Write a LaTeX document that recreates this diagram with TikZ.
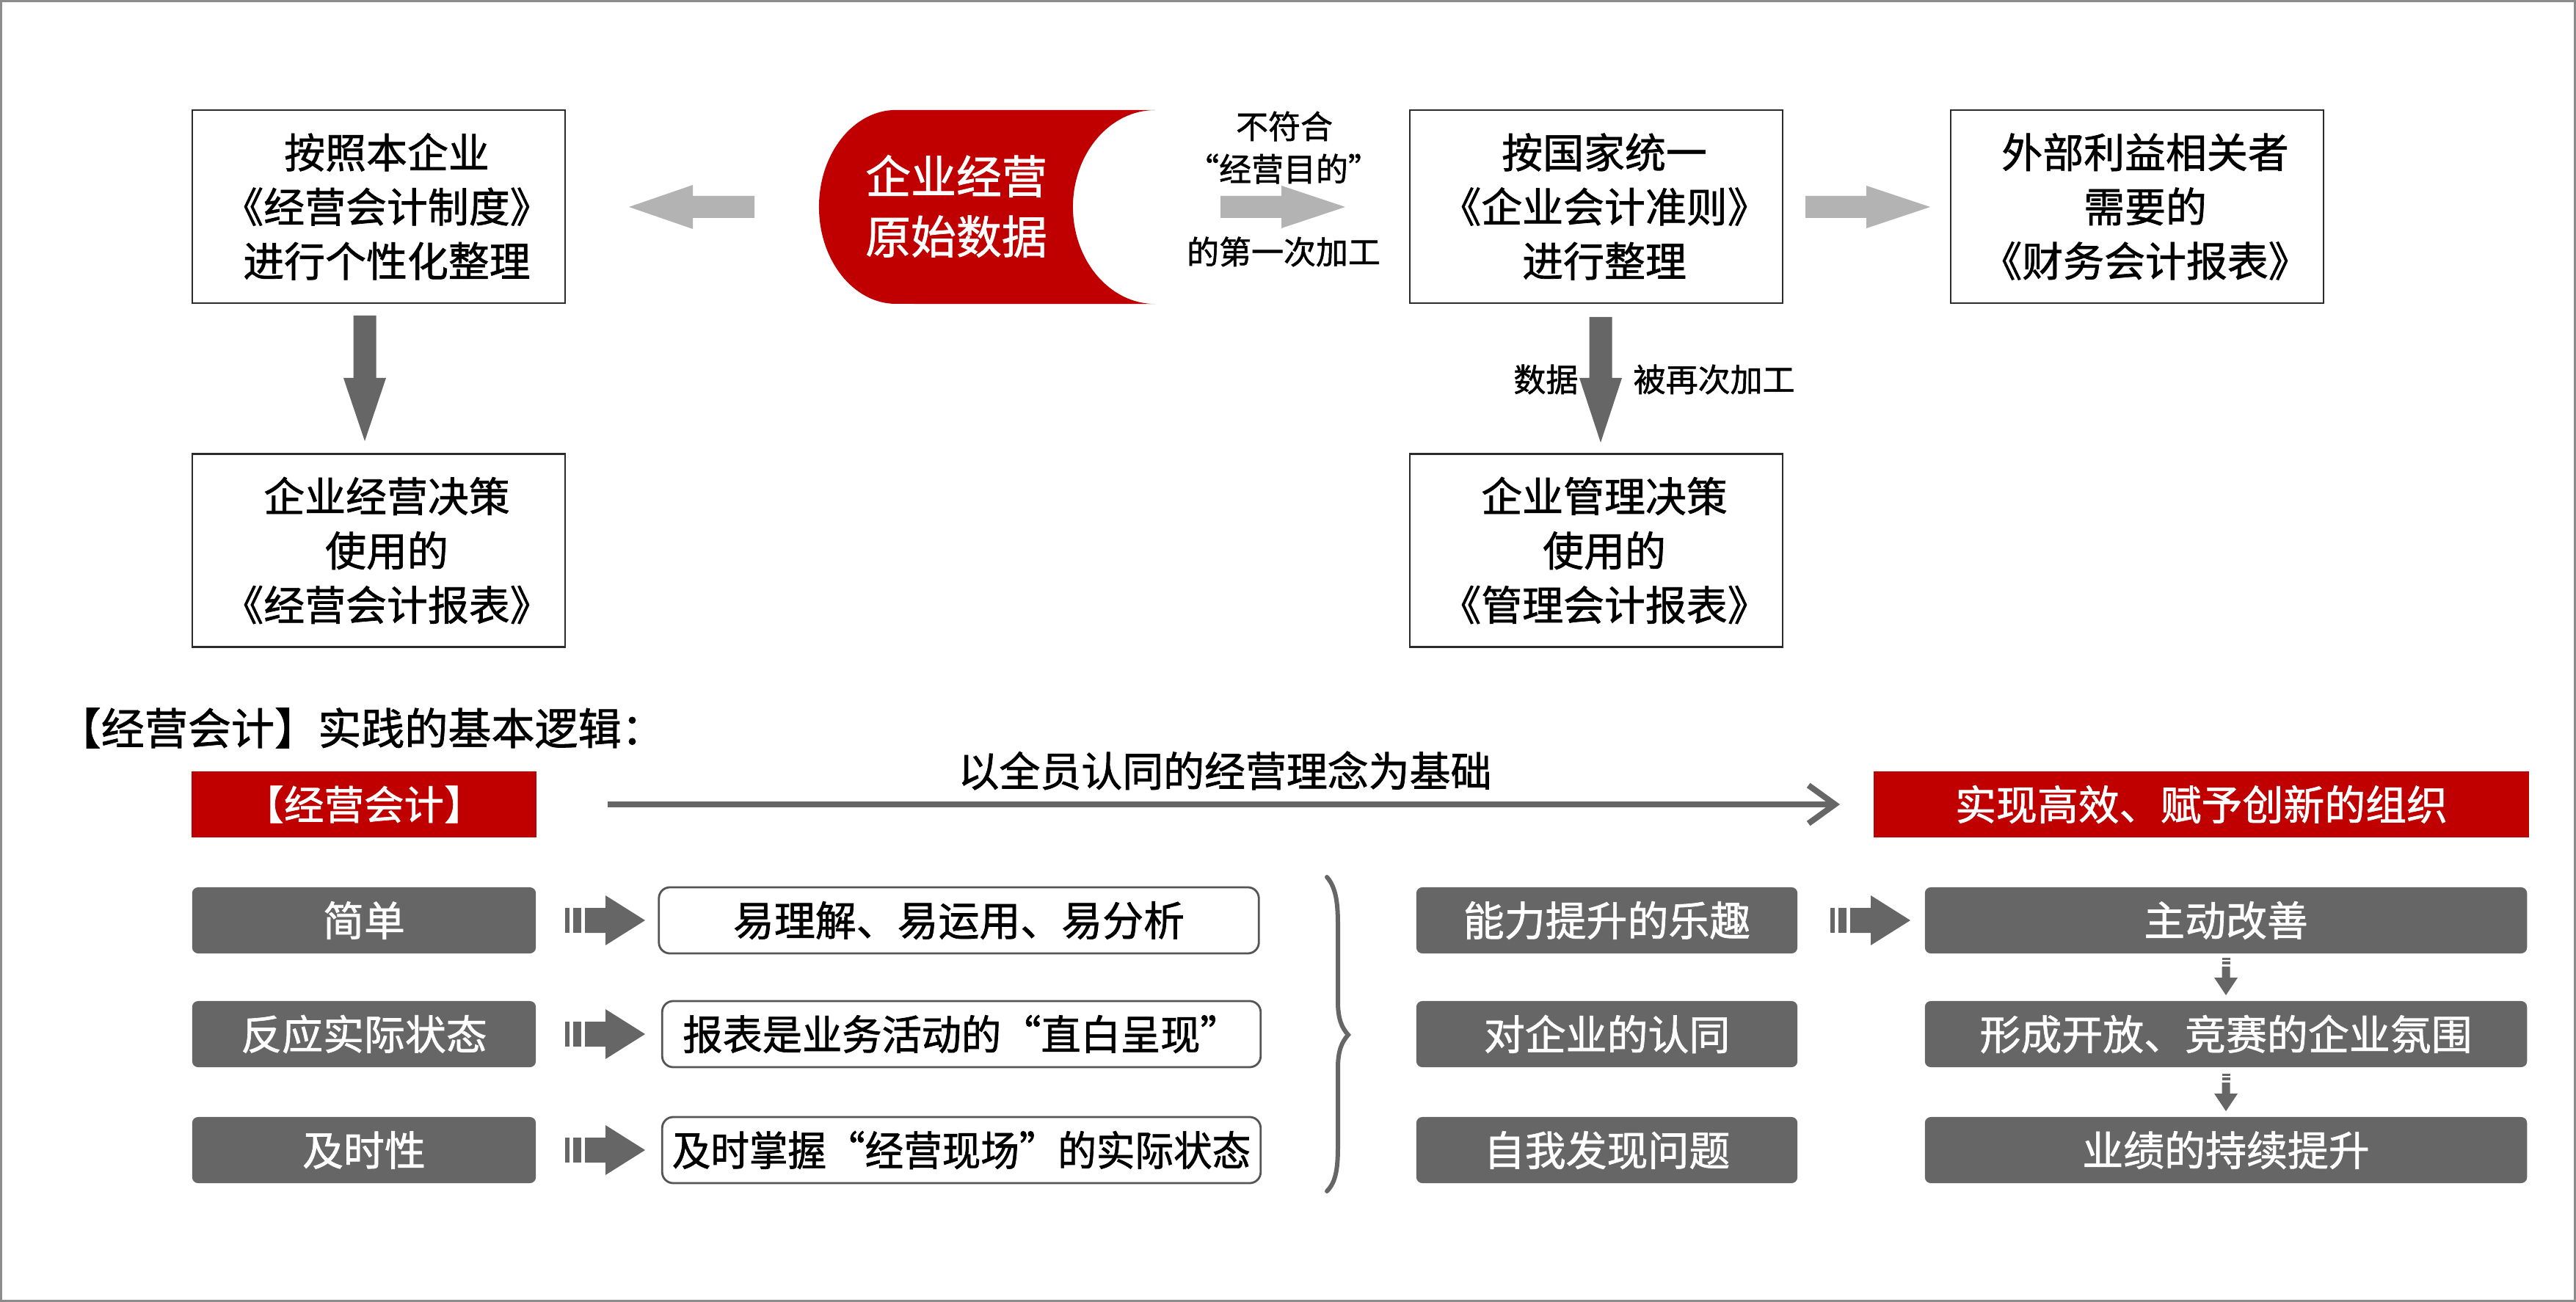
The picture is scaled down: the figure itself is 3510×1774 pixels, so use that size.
\documentclass[tikz,border=0pt]{standalone}
\usepackage{fontspec}
\setmainfont{Noto Sans CJK SC}[FakeBold=1.2]
\usetikzlibrary{arrows.meta}
\definecolor{cred}{HTML}{C00000}
\definecolor{cdark}{HTML}{666666}
\definecolor{clight}{HTML}{B3B3B3}
\definecolor{cline}{HTML}{2B2B2B}
\definecolor{cwline}{HTML}{555555}
\definecolor{cframe}{HTML}{8C8C8C}
\newcommand\fsBox{\fontsize{15.9pt}{21.05pt}\selectfont}
\newcommand\fsSrc{\fontsize{17.6pt}{23.3pt}\selectfont}
\newcommand\fsLab{\fontsize{12.5pt}{15pt}\selectfont}
\newcommand\fsTitle{\fontsize{16.8pt}{20pt}\selectfont}
\newcommand\fsRow{\fontsize{15.9pt}{19pt}\selectfont}
\newcommand\fsRed{\fontsize{15.5pt}{19pt}\selectfont}
\tikzset{
  topbox/.style={draw=cline, line width=0.7pt, fill=white, minimum width=5.08cm, minimum height=2.63cm, inner sep=0pt},
  boxtext/.style={inner sep=0pt, align=center, font=\fsBox},
  gbox/.style={fill=cdark, rounded corners=0.08cm, minimum height=0.9cm, inner sep=0pt, text=white, font=\fsRow},
  wbox/.style={draw=cwline, line width=0.8pt, fill=white, rounded corners=0.15cm, minimum height=0.9cm, minimum width=8.17cm, inner sep=0pt, font=\fsRow},
  rbox/.style={fill=cred, minimum height=0.9cm, inner sep=0pt, text=white, font=\fsRed},
  lab/.style={font=\fsLab, inner sep=0pt},
  lightarrow/.style={fill=clight},
  darkarrow/.style={fill=cdark},
}
\begin{document}
\begin{tikzpicture}[x=0.01cm,y=-0.01cm]
\useasboundingbox (0,0) rectangle (3510,1774);
\draw[cframe, line width=0.03cm] (1.5,1.5) rectangle (3508.5,1772.5);

% ---------- top part ----------
\node[topbox] (A) at (516,281.5) {};
\node[topbox] (B) at (2175,281.5) {};
\node[topbox] (C) at (2912,281.5) {};
\node[topbox] (E) at (516,750) {};
\node[topbox] (D) at (2175,750) {};
\node[boxtext] (At) at ([xshift=0.11cm]A.center) {按照本企业\\《经营会计制度》\\进行个性化整理};
\node[boxtext] (Bt) at ([xshift=0.11cm]B.center) {按国家统一\\《企业会计准则》\\进行整理};
\node[boxtext] (Ct) at ([xshift=0.11cm]C.center) {外部利益相关者\\需要的\\《财务会计报表》};
\node[boxtext] (Et) at ([xshift=0.11cm]E.center) {企业经营决策\\使用的\\《经营会计报表》};
\node[boxtext] (Dt) at ([xshift=0.11cm]D.center) {企业管理决策\\使用的\\《管理会计报表》};

% source shape
\fill[cred] (1221,150) -- (1574,150)
  arc[start angle=90, end angle=270, x radius=1.12cm, y radius=1.32cm]
  -- (1221,414)
  arc[start angle=270, end angle=90, x radius=1.05cm, y radius=1.32cm] -- cycle;
\node[font=\fsSrc, text=white, align=center, inner sep=0pt] (src) at (1303,281) {企业经营\\原始数据};

% block arrows (top)
\fill[lightarrow] (1028,267) -- (944,267) -- (944,252) -- (857,282) -- (944,312) -- (944,297) -- (1028,297) -- cycle;
\fill[lightarrow] (1663,267) -- (1746,267) -- (1746,253) -- (1833,282) -- (1746,311) -- (1746,297) -- (1663,297) -- cycle;
\fill[lightarrow] (2460,267) -- (2543,267) -- (2543,253) -- (2630,282) -- (2543,311) -- (2543,297) -- (2460,297) -- cycle;
\fill[darkarrow] (481.5,430) -- (512.5,430) -- (512.5,515) -- (526,515) -- (497,601) -- (468,515) -- (481.5,515) -- cycle;
\fill[darkarrow] (2165.5,432) -- (2196.5,432) -- (2196.5,515) -- (2210,515) -- (2181,603) -- (2152,515) -- (2165.5,515) -- cycle;

\node[lab] (l1) at (1750,172) {不符合};
\node[lab] (l2) at (1749,230) {“经营目的”};
\node[lab] (l3) at (1749,343) {的第一次加工};
\node[lab, anchor=east] (l4) at (2151,517) {数据};
\node[lab, anchor=west] (l5) at (2225,517) {被再次加工};

% ---------- bottom part ----------
\node[anchor=west, font=\fsTitle, inner sep=0pt] (title) at (78,992) {【经营会计】实践的基本逻辑：};

\node[rbox, minimum width=4.70cm] (rl) at (496,1096) {【经营会计】};
\node[rbox, minimum width=8.93cm, font=\fsRow] (rr) at (2999.5,1096) {实现高效、赋予创新的组织};
\coordinate (la) at (828,1096);
\coordinate (lb) at (2507,1096);
\draw[cdark, line width=0.08cm, -{Straight Barb[length=0.36cm, width=0.52cm]}] (la) -- (lb);
\node[font=\fsRow, inner sep=0pt] (base) at (1669,1050) {以全员认同的经营理念为基础};

% left gray boxes
\node[gbox, minimum width=4.68cm] (g1) at (496,1254) {简单};
\node[gbox, minimum width=4.68cm] (g2) at (496,1409) {反应实际状态};
\node[gbox, minimum width=4.68cm] (g3) at (496,1567) {及时性};

% white boxes
\node[wbox] (w1) at (1306.5,1254) {易理解、易运用、易分析};
\node[wbox, minimum width=8.15cm] (w2) at (1310,1409) {\scalebox{0.97}[1]{报表是业务活动的“直白呈现”}};
\node[wbox, minimum width=8.15cm] (w3) at (1310,1567) {\scalebox{0.94}[1]{及时掌握“经营现场”的实际状态}};

% striped arrows left
\foreach \yy in {1254,1409,1567}{
  \fill[darkarrow] (770,\yy-17) rectangle (776,\yy+17);
  \fill[darkarrow] (781,\yy-17) rectangle (792,\yy+17);
  \fill[darkarrow] (797,\yy-17) -- (825,\yy-17) -- (825,\yy-34) -- (879,\yy) -- (825,\yy+34) -- (825,\yy+17) -- (797,\yy+17) -- cycle;
}

% brace
\draw[cdark, line width=0.06cm, line cap=round] (1808,1195) .. controls (1821,1210) and (1823,1232) .. (1823,1262)
  -- (1823,1365) .. controls (1823,1388) and (1828,1400) .. (1837,1410)
  .. controls (1828,1420) and (1823,1432) .. (1823,1455)
  -- (1823,1560) .. controls (1823,1590) and (1821,1610) .. (1808,1623);

% middle gray boxes
\node[gbox, minimum width=5.19cm] (m1) at (2189.5,1254) {能力提升的乐趣};
\node[gbox, minimum width=5.19cm] (m2) at (2189.5,1409) {对企业的认同};
\node[gbox, minimum width=5.19cm] (m3) at (2189.5,1567) {自我发现问题};

% striped arrow right
\fill[darkarrow] (2494,1237) rectangle (2500,1271);
\fill[darkarrow] (2505,1237) rectangle (2516,1271);
\fill[darkarrow] (2521,1237) -- (2549,1237) -- (2549,1220) -- (2603,1254) -- (2549,1288) -- (2549,1271) -- (2521,1271) -- cycle;

% right gray boxes
\node[gbox, minimum width=8.20cm] (r1) at (3033,1254) {主动改善};
\node[gbox, minimum width=8.20cm] (r2) at (3033,1409) {形成开放、竞赛的企业氛围};
\node[gbox, minimum width=8.20cm] (r3) at (3033,1567) {业绩的持续提升};

% small down arrows
\foreach \yy in {1305,1463}{
  \fill[darkarrow] (3027.5,\yy) rectangle (3038.5,\yy+3);
  \fill[darkarrow] (3027.5,\yy+5) rectangle (3038.5,\yy+9);
  \fill[darkarrow] (3027.5,\yy+12) -- (3038.5,\yy+12) -- (3038.5,\yy+27) -- (3049,\yy+27) -- (3033,\yy+51) -- (3017,\yy+27) -- (3027.5,\yy+27) -- cycle;
}
\end{tikzpicture}
\end{document}
